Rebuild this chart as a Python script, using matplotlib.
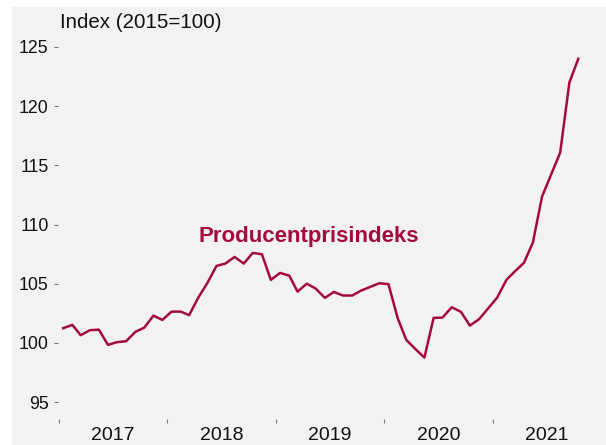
import numpy as np
import pandas as pd
import matplotlib.pyplot as plt
import matplotlib.dates as mdates
from matplotlib.patches import Rectangle

plt.rcParams['font.family'] = ['Liberation Sans', 'DejaVu Sans']

# Monthly producer price index, Jan 2017 - Oct 2021 (2015=100)
months = pd.date_range("2017-01-01", periods=58, freq="MS") + pd.Timedelta(days=14)
ppi = [101.24, 101.52, 100.65, 101.07, 101.12, 99.83, 100.06, 100.14, 100.93, 101.29, 102.30, 101.94,
       102.64, 102.64, 102.34, 103.83, 105.04, 106.50, 106.70, 107.26, 106.70, 107.60, 107.49, 105.32,
       105.91, 105.68, 104.33, 105.00, 104.59, 103.80, 104.30, 104.00, 104.00, 104.42, 104.73, 105.04,
       104.96, 102.09, 100.25, 99.47, 98.76, 102.11, 102.14, 103.01, 102.62, 101.46, 102.00, 102.90,
       103.83, 105.32, 106.03, 106.76, 108.47, 112.36, 114.19, 116.07, 122.00, 124.00]
years = ["2017", "2018", "2019", "2020", "2021"]
yticks = [95, 100, 105, 110, 115, 120, 125]

line_color = "#a50a3c"
bg = "#f2f2f2"

fig = plt.figure(figsize=(6.06, 4.45), dpi=100)
fig.patches.append(Rectangle((12 / 606, 0), 1, 1 - 7 / 445, transform=fig.transFigure,
                             facecolor=bg, edgecolor="none", zorder=-10))

ax = fig.add_axes([59 / 606, 1 - 408 / 445, (589 - 59) / 606, (408 - 41) / 445])
ax.set_facecolor(bg)
ax.patch.set_alpha(0)

ax.plot(months, ppi, color=line_color, lw=1.8)

ax.set_xlim(pd.Timestamp("2017-01-01"), pd.Timestamp("2021-11-20"))
ax.set_ylim(94.5, 125.5)

for s in ax.spines.values():
    s.set_visible(False)
ax.spines['bottom'].set_position(('outward', 8))
ax.spines['left'].set_position(('outward', 1))

ax.set_yticks(yticks)
ax.set_yticklabels([str(v) for v in yticks])
ax.tick_params(axis='y', length=3, width=0.8, color="#777777", pad=3.5, labelsize=12.8, labelcolor="#111111")

year_starts = [pd.Timestamp(f"{y}-01-01") for y in years]
ax.set_xticks(year_starts)
ax.set_xticklabels([])
ax.set_xticks([pd.Timestamp(f"{y}-07-02") for y in years], minor=True)
ax.set_xticklabels(years, minor=True)
ax.tick_params(axis='x', which='major', length=3, width=0.8, color="#777777")
ax.tick_params(axis='x', which='minor', length=0, pad=6, labelsize=14, labelcolor="#111111")

ax.text(pd.Timestamp("2019-04-20"), 109.0, "Producentprisindeks", color=line_color,
        fontsize=16, fontweight="bold", ha="center", va="center")

fig.text(60 / 606, 1 - 22 / 445, "Index (2015=100)", fontsize=14.8, color="#111111",
         ha="left", va="center")

fig.savefig("out.png", dpi=100, facecolor="white")
